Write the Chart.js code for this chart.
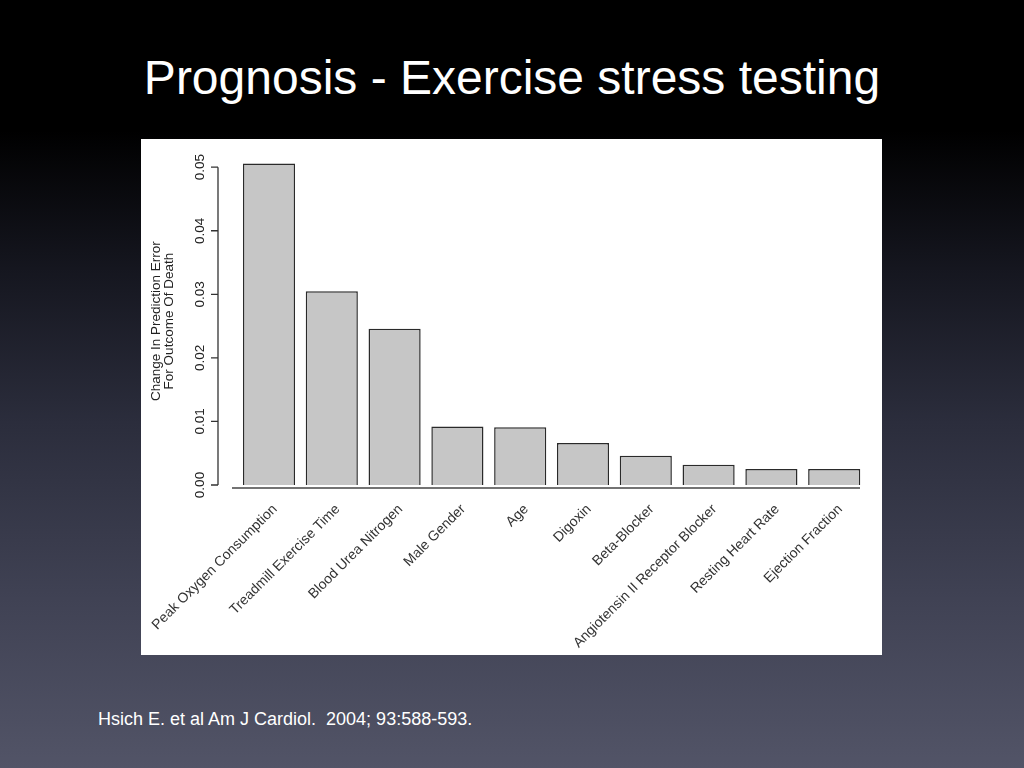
<!DOCTYPE html>
<html>
<head>
<meta charset="utf-8">
<script src="https://cdn.jsdelivr.net/npm/chart.js@4/dist/chart.umd.min.js"></script>
<style>
  html, body { margin: 0; padding: 0; }
  body {
    width: 1024px; height: 768px; overflow: hidden; position: relative;
    background: linear-gradient(to bottom, #000 0%, #000 17%, #15161f 35%, #2b2d3c 55%, #404254 78%, #525467 100%);
    font-family: "Liberation Sans", Arial, sans-serif;
  }
  #title {
    position: absolute; left: 0; width: 1024px; top: 50px;
    text-align: center; color: #fff; font-size: 48px; line-height: 56px;
  }
  #panel {
    position: absolute; left: 141px; top: 139px; width: 741px; height: 516px; background: #fff;
  }
  #cite {
    position: absolute; left: 98px; top: 709px; color: #fff; font-size: 18px; white-space: pre;
  }
</style>
</head>
<body>
<div id="title">Prognosis - Exercise stress testing</div>
<div id="panel"><canvas id="chart" width="741" height="516"></canvas></div>
<div id="cite">Hsich E. et al Am J Cardiol.  2004; 93:588-593.</div>
<script>
const categories = ['Peak Oxygen Consumption', 'Treadmill Exercise Time', 'Blood Urea Nitrogen',
  'Male Gender', 'Age', 'Digoxin', 'Beta-Blocker', 'Angiotensin II Receptor Blocker',
  'Resting Heart Rate', 'Ejection Fraction'];
const values = [0.0506, 0.0305, 0.0246, 0.0092, 0.0091, 0.0066, 0.0046, 0.0032, 0.0025, 0.0025];
const yTicks = [0, 0.01, 0.02, 0.03, 0.04, 0.05];
const yTickLabels = ['0.00', '0.01', '0.02', '0.03', '0.04', '0.05'];
const yTitle = ['Change In Prediction Error', 'For Outcome Of Death'];

const FONT = '"Liberation Sans", Arial, sans-serif';

// R style axis: left line only over the tick range, rotated tick labels, baseline
const rAxis = {
  id: 'rAxis',
  afterDraw(chart) {
    const ctx = chart.ctx;
    const y = chart.scales.y;
    const area = chart.chartArea;
    const ax = area.left - 19.6;
    ctx.save();
    ctx.strokeStyle = '#333';
    ctx.lineWidth = 1.3;
    ctx.beginPath();
    ctx.moveTo(ax, y.getPixelForValue(yTicks[0]));
    ctx.lineTo(ax, y.getPixelForValue(yTicks[yTicks.length - 1]));
    yTicks.forEach(v => {
      const py = y.getPixelForValue(v);
      ctx.moveTo(ax - 7, py);
      ctx.lineTo(ax, py);
    });
    ctx.stroke();

    ctx.fillStyle = '#222';
    ctx.font = '13.5px ' + FONT;
    ctx.textAlign = 'center';
    ctx.textBaseline = 'middle';
    yTicks.forEach((v, i) => {
      ctx.save();
      ctx.translate(ax - 18, y.getPixelForValue(v));
      ctx.rotate(-Math.PI / 2);
      ctx.fillText(yTickLabels[i], 0, 0);
      ctx.restore();
    });

    const mid = (y.getPixelForValue(yTicks[0]) + y.getPixelForValue(yTicks[yTicks.length - 1])) / 2 - 5;
    [62, 48.5].forEach((off, i) => {
      ctx.save();
      ctx.translate(ax - off, mid);
      ctx.rotate(-Math.PI / 2);
      ctx.fillText(yTitle[i], 0, 0);
      ctx.restore();
    });

    // baseline under the bars
    const by = y.getPixelForValue(0) + 3;
    ctx.strokeStyle = '#444';
    ctx.lineWidth = 1.6;
    ctx.beginPath();
    ctx.moveTo(area.left - 5.6, by);
    ctx.lineTo(area.right - 5.6, by);
    ctx.stroke();
    ctx.restore();
  }
};

new Chart(document.getElementById('chart'), {
  type: 'bar',
  data: {
    labels: categories,
    datasets: [{
      data: values,
      backgroundColor: '#c6c6c6',
      borderColor: '#2a2a2a',
      borderWidth: 1.5,
      barPercentage: 0.83,
      categoryPercentage: 1
    }]
  },
  options: {
    responsive: false,
    animation: false,
    layout: { padding: { left: 96.6, right: 16.4, top: 15.5, bottom: 0 } },
    plugins: { legend: { display: false }, tooltip: { enabled: false } },
    scales: {
      x: {
        grid: { display: false, drawTicks: false },
        border: { display: false },
        ticks: {
          color: '#333',
          font: { family: FONT, size: 14 },
          minRotation: 45, maxRotation: 45,
          autoSkip: false,
          labelOffset: 6,
          padding: 16
        },
        afterFit(s) { s.height = 170; s.paddingLeft = 0; s.paddingRight = 0; }
      },
      y: { display: false, min: 0, max: 0.052 }
    }
  },
  plugins: [rAxis]
});
</script>
</body>
</html>
